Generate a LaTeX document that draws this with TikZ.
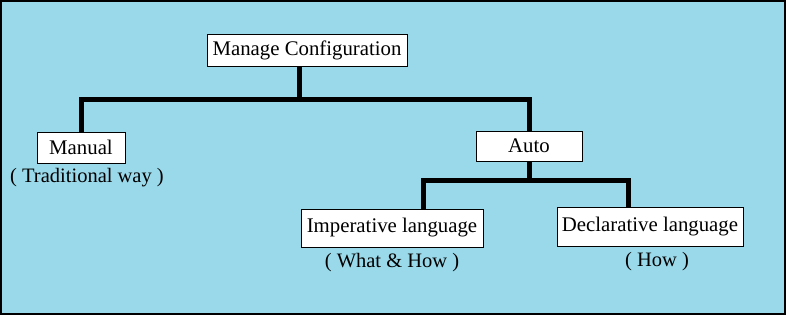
\documentclass[tikz,border=0pt]{standalone}
\usepackage{fontspec}
\setmainfont{Liberation Serif}
\newfontfamily\boxfont{Liberation Serif}
\usetikzlibrary{positioning}
\definecolor{paintblue}{RGB}{153,217,234}

\begin{document}
\begin{tikzpicture}[x=1pt, y=-1pt,
    box/.style={draw=black, fill=white, line width=1pt, inner sep=0pt,
        font=\boxfont\fontsize{20.8}{24}\selectfont},
    note/.style={inner sep=0pt, font=\boxfont\fontsize{20.5}{24}\selectfont},
    branch/.style={line width=5pt, line join=miter}]
    % Background
    \useasboundingbox (0,0) rectangle (787,316);
    \filldraw[fill=paintblue, draw=black, line width=1.2pt] (1,1) rectangle (785,314);

    % Boxes
    \node[box, minimum width=200pt, minimum height=32pt] (mc) at (307,50) {Manage Configuration};
    \node[box, minimum width=88pt, minimum height=31pt] (manual) at (81,147.5) {Manual};
    \node[box, minimum width=106pt, minimum height=30pt] (auto) at (529,146) {Auto};
    \node[box, minimum width=182pt, minimum height=38pt] (imp) at (392,228) {Imperative language};
    \node[box, minimum width=186pt, minimum height=39pt] (decl) at (650,226.5) {Declarative language};

    % Notes
    \node[note] (manualnote) at (87,178) {( Traditional way )};
    \node[note] (impnote) at (392,262.5) {( What \& How )};
    \node[note] (declnote) at (657,262) {( How )};

    % Branches
    \coordinate (mcjoin) at (299,99);
    \coordinate (autojoin) at (auto.south |- 0,180);
    \draw[branch] ([xshift=-8pt]mc.south) -- (mcjoin);
    \draw[branch] (manual.north) |- (mcjoin) -| (auto.north);
    \draw[branch] (auto.south) -- (autojoin);
    \draw[branch] ([xshift=31pt]imp.north) |- (autojoin) -| ([xshift=-22pt]decl.north);
\end{tikzpicture}
\end{document}
